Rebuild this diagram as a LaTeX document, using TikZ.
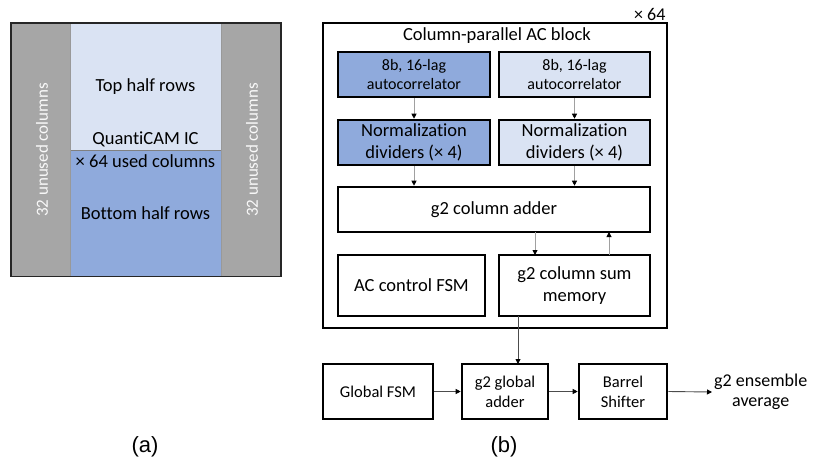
\documentclass[tikz,border=0pt]{standalone}
\usepackage{fontspec}
\setmainfont[Ligatures=NoCommon]{Carlito}
\newfontfamily\arialfont{Liberation Sans}
\usetikzlibrary{arrows.meta}
\definecolor{lblue}{HTML}{DAE3F3}
\definecolor{mblue}{HTML}{8FAADC}
\definecolor{gcol}{HTML}{A6A6A6}
\definecolor{lgray}{HTML}{A0A0A0}
\begin{document}
\begin{tikzpicture}[x=1pt,y=-1pt,
  blk/.style={draw=black,line width=2.6pt,align=center,inner sep=0pt},
  arr/.style={draw=lgray,line width=0.9pt,-{Triangle[length=5pt,width=5pt,fill=black,color=black]}},
  darr/.style={draw=black!70,line width=0.9pt,-{Triangle[length=5pt,width=5pt,fill=black,color=black]}},
  lbl/.style={font=\arialfont\fontsize{22}{26}\selectfont}]
\useasboundingbox (0,0) rectangle (816,466);
% ---------- (a)
\fill[gcol] (11,23) rectangle (70.5,276.5);
\fill[gcol] (221,23) rectangle (281,276.5);
\fill[lblue] (70.5,23) rectangle (221,150);
\fill[mblue] (70.5,150) rectangle (221,276.5);
\draw[lgray!80!black,line width=0.6pt] (70.5,150) -- (221,150);
\draw[black!40,line width=0.5pt] (70.5,23) -- (70.5,276.5) (221,23) -- (221,276.5);
\draw[black!85,line width=1.5pt] (11,23) rectangle (281,276.5);
\node[font=\fontsize{18.5}{22}\selectfont] (top) at (145.5,87) {Top half rows};
\node[font=\fontsize{18.5}{22}\selectfont] (qc) at (145.5,139) {QuantiCAM IC};
\node[font=\fontsize{18.5}{22}\selectfont] (used) at (145.5,161) {× 64 used columns};
\node[font=\fontsize{18.5}{22}\selectfont] (bot) at (145.5,213) {Bottom half rows};
\node[font=\fontsize{17}{20}\selectfont,text=white!95!gray,rotate=90] (ul) at (42,150) {32 unused columns};
\node[font=\fontsize{17}{20}\selectfont,text=white!95!gray,rotate=90] (ur) at (252,150) {32 unused columns};
\node[lbl] (la) at (145,447) {(a)};
% ---------- (b)
\draw[black,line width=2.6pt] (323,23) rectangle (667,328);
\node[font=\fontsize{18}{20}\selectfont,anchor=east] (x64) at (669,14) {× 64};
\node[font=\fontsize{18.5}{22}\selectfont] (title) at (497,36) {Column-parallel AC block};
\node[blk,fill=mblue,minimum width=152pt,minimum height=45pt,font=\fontsize{16}{19}\selectfont] (ac1) at (414,74.5) {8b, 16-lag\\autocorrelator};
\node[blk,fill=lblue,minimum width=151pt,minimum height=45pt,font=\fontsize{16}{19}\selectfont] (ac2) at (574.5,74.5) {8b, 16-lag\\autocorrelator};
\node[blk,fill=mblue,minimum width=152pt,minimum height=45pt,font=\fontsize{18.5}{22}\selectfont] (nd1) at (414,142.5) {Normalization\\dividers (× 4)};
\node[blk,fill=lblue,minimum width=151pt,minimum height=45pt,font=\fontsize{18.5}{22}\selectfont] (nd2) at (574.5,142.5) {Normalization\\dividers (× 4)};
\node[blk,fill=white,minimum width=312pt,minimum height=45pt,font=\fontsize{18.5}{22}\selectfont] (add) at (494,209.5) {g2 column adder};
\node[blk,fill=white,minimum width=147pt,minimum height=61pt,font=\fontsize{18.5}{22}\selectfont] (fsm) at (411.5,285.5) {AC control FSM};
\node[blk,fill=white,minimum width=151pt,minimum height=61pt,font=\fontsize{18.5}{22}\selectfont] (mem) at (574.5,285.5) {g2 column sum\\memory};
\node[blk,fill=white,minimum width=110pt,minimum height=55pt,font=\fontsize{16.5}{20}\selectfont] (gfsm) at (378,391.5) {Global FSM};
\node[blk,fill=white,minimum width=86pt,minimum height=55pt,font=\fontsize{16.5}{20}\selectfont] (gadd) at (505,391.5) {g2 global\\adder};
\node[blk,fill=white,minimum width=88pt,minimum height=55pt,font=\fontsize{16.5}{20}\selectfont] (bs) at (623,391.5) {Barrel\\Shifter};
\node[font=\fontsize{18}{20}\selectfont,align=center,anchor=west,inner sep=2pt] (ens) at (712,392) {g2 ensemble\\average};
\node[lbl] (lb) at (504,447) {(b)};
% arrows
\draw[arr] (ac1.south) -- (nd1.north);
\draw[arr] (ac2.south) -- (nd2.north);
\draw[arr] (nd1.south) -- (nd1.south |- add.north);
\draw[arr] (nd2.south) -- (nd2.south |- add.north);
\draw[arr] (535,232) -- (535,255);
\draw[arr] (609,255) -- (609,232);
\draw[darr] (518,316) -- (518,364);
\draw[darr] (gfsm.east) -- (gadd.west);
\draw[darr] (gadd.east) -- (bs.west);
\draw[darr] (bs.east) -- (ens.west);
\end{tikzpicture}
\end{document}
